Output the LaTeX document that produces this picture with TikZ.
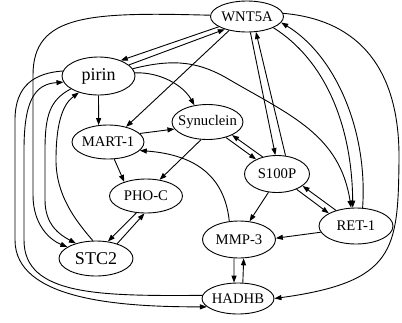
\documentclass[tikz,border=0pt]{standalone}
\usepackage{fontspec}
\setmainfont{Liberation Serif}
\usetikzlibrary{arrows.meta,shapes.geometric}
\newcommand\lbl[1]{\makebox[0pt]{#1}}
\begin{document}
\begin{tikzpicture}[x=1pt,y=-1pt,
  gnode/.style={ellipse,draw,line width=0.9pt,inner sep=0pt,font=\fontsize{14.7}{16}\selectfont},
  big/.style={font=\fontsize{18}{20}\selectfont},
  edge/.style={line width=0.9pt,-{Triangle[length=7pt,width=5pt]}},
]
\useasboundingbox (0,0) rectangle (402,322);
\node[gnode,minimum width=73pt,minimum height=31pt] (W) at (247,16.5) {\lbl{WNT5A}};
\node[gnode,big,minimum width=73pt,minimum height=38pt] (P) at (98.5,76) {\lbl{pirin}};
\node[gnode,minimum width=71pt,minimum height=35pt] (Sy) at (207.5,122) {\lbl{Synuclein}};
\node[gnode,minimum width=72pt,minimum height=34pt] (M) at (108,142) {\lbl{MART-1}};
\node[gnode,minimum width=65pt,minimum height=37pt] (S) at (277,174) {\lbl{S100P}};
\node[gnode,minimum width=73pt,minimum height=34pt] (PH) at (146,196) {\lbl{PHO-C}};
\node[gnode,big,minimum width=74pt,minimum height=35pt] (ST) at (96,258.5) {\lbl{STC2}};
\node[gnode,minimum width=73pt,minimum height=37pt] (MM) at (239,239.5) {\lbl{MMP-3}};
\node[gnode,minimum width=74pt,minimum height=36pt] (R) at (356,226) {\lbl{RET-1}};
\node[gnode,minimum width=72pt,minimum height=31pt] (H) at (238,298.5) {\lbl{HADHB}};

\draw[edge] (W.200) -- (P.35);
\draw[edge] (P.20) -- (W.210);
\draw[edge] (W.218) -- (M.40);
\draw[edge] (W.282) -- (S.95);
\draw[edge] (S.65) -- (W.300);
\draw[edge] (W.337) .. controls (325,60) and (352,125) .. (R.100);
\draw[edge] (R.70) .. controls (368,130) and (335,55) .. (W.350);
\draw[edge] (W.5) .. controls (360,20) and (400,70) .. (399,160) .. controls (398,250) and (395,282) .. (H.east);
\draw[edge] (W.178) .. controls (90,12) and (33,14) .. (33,75) -- (33,195) .. controls (33,225) and (50,240) .. (ST.158);
\draw[edge] (P.south) -- (M.119);
\draw[edge] (P.5) .. controls (160,72) and (183,85) .. (Sy.128);
\draw[edge] (P.12) .. controls (175,58) and (200,62) .. (230,80) .. controls (290,115) and (340,135) .. (R.105);
\draw[edge] (P.205) .. controls (50,100) and (45,115) .. (45,150) -- (45,200) .. controls (45,225) and (60,235) .. (ST.143);
\draw[edge] (ST.100) .. controls (75,220) and (56,195) .. (56,160) .. controls (56,125) and (62,105) .. (P.220);
\draw[edge] (P.172) .. controls (35,73) and (15,85) .. (15,120) -- (15,240) .. controls (15,300) and (120,307) .. (H.195);
\draw[edge] (H.175) .. controls (100,296) and (24,296) .. (24,240) -- (24,150) .. controls (24,100) and (35,84) .. (P.190);
\draw[edge] (M.15) -- (Sy.192);
\draw[edge] (M.290) -- (PH.147);
\draw[edge] (Sy.250) -- (PH.50);
\draw[edge] (Sy.320) -- (S.145);
\draw[edge] (S.130) -- (Sy.332);
\draw[edge] (S.322) -- (R.155);
\draw[edge] (R.142) -- (S.335);
\draw[edge] (S.245) -- (MM.60);
\draw[edge] (R.190) -- (MM.2);
\draw[edge] (MM.118) .. controls (225,180) and (200,155) .. (M.345);
\draw[edge] (MM.255) -- (H.104);
\draw[edge] (H.73) -- (MM.284);
\draw[edge] (PH.240) -- (ST.55);
\draw[edge] (ST.35) -- (PH.265);
\end{tikzpicture}
\end{document}
